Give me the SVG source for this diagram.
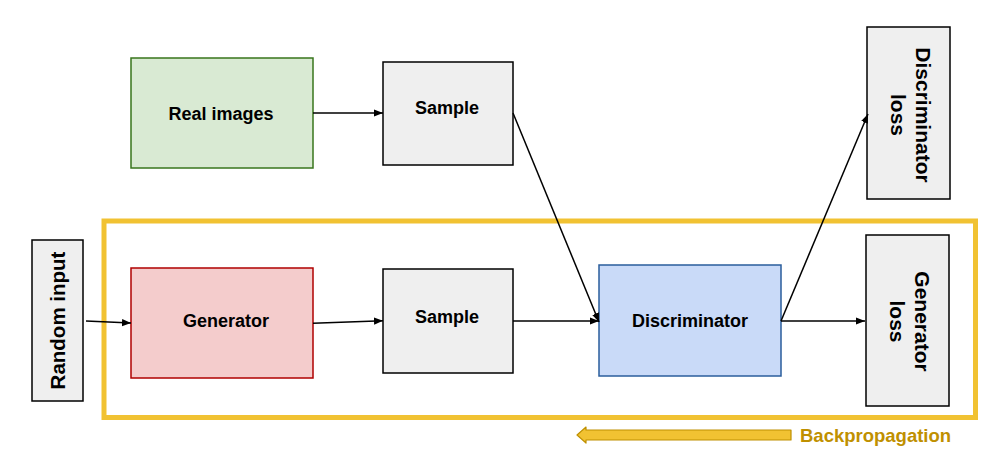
<svg xmlns="http://www.w3.org/2000/svg" width="1000" height="464" viewBox="0 0 1000 464">
<defs>
<style>
.lbl{font-family:"Liberation Sans",Arial,sans-serif;font-weight:bold;font-size:18px;fill:#000;text-anchor:middle}
.vl{font-size:20.5px}
.gray{fill:#efefef;stroke:#000;stroke-width:1.5}
.conn{stroke:#000;stroke-width:1.5;fill:none;marker-end:url(#ah)}
</style>
<marker id="ah" viewBox="0 0 10 10" refX="10" refY="5" markerWidth="9" markerHeight="9" markerUnits="userSpaceOnUse" orient="auto">
<path d="M0,1 L10,5 L0,9 Z" fill="#000"/>
</marker>
</defs>
<rect width="1000" height="464" fill="#fff"/>
<g id="backprop-frame">
<rect x="104" y="221" width="871.5" height="196.5" fill="none" stroke="#f1c232" stroke-width="5"/>
</g>
<g id="real-images">
<rect x="131" y="58" width="182" height="110" fill="#d9ead3" stroke="#38761d" stroke-width="1.5"/>
<text class="lbl" x="221" y="119.5">Real images</text>
</g>
<g id="sample-real">
<rect class="gray" x="383" y="62" width="130" height="103"/>
<text class="lbl" x="447" y="114">Sample</text>
</g>
<g id="random-input">
<rect class="gray" x="32" y="240" width="51" height="161"/>
<text class="lbl vl" transform="translate(57.5,320.5) rotate(-90)" x="0" y="7">Random input</text>
</g>
<g id="generator">
<rect x="131" y="268" width="182" height="110" fill="#f4cccc" stroke="#b00000" stroke-width="1.5"/>
<text class="lbl" x="226" y="327">Generator</text>
</g>
<g id="sample-fake">
<rect class="gray" x="383" y="269" width="130" height="104"/>
<text class="lbl" x="447" y="323">Sample</text>
</g>
<g id="discriminator">
<rect x="599" y="265" width="182" height="111" fill="#c9daf8" stroke="#2a5d9c" stroke-width="1.5"/>
<text class="lbl" x="690" y="327">Discriminator</text>
</g>
<g id="discriminator-loss">
<rect class="gray" x="867" y="27" width="83" height="172"/>
<text class="lbl vl" transform="translate(908.5,113) rotate(90)" style="font-size:21px"><tspan x="2" y="-7">Discriminator</tspan><tspan x="2" y="18">loss</tspan></text>
</g>
<g id="generator-loss">
<rect class="gray" x="866" y="235" width="83" height="171"/>
<text class="lbl vl" transform="translate(907.5,320.5) rotate(90)" style="font-size:21px"><tspan x="1" y="-7">Generator</tspan><tspan x="1" y="18">loss</tspan></text>
</g>
<g id="connectors">
<path class="conn" d="M313,113 L383,113"/>
<path class="conn" d="M513,113 L599,322"/>
<path class="conn" d="M86,321 L131,323"/>
<path class="conn" d="M313,323.3 L383,320.7"/>
<path class="conn" d="M513,321 L599,321"/>
<path class="conn" d="M781,321 L865,321"/>
<path class="conn" d="M781,321 L868,114"/>
</g>
<g id="backpropagation">
<path d="M791,430 L586,430 L586,427 L577,435 L586,443 L586,440 L791,440 Z" fill="#f1c232" stroke="#bf9000" stroke-width="1.2" stroke-linejoin="round"/>
<text x="800" y="442" style="font-family:'Liberation Sans',Arial,sans-serif;font-weight:bold;font-size:18.5px;fill:#bf9000">Backpropagation</text>
</g>
</svg>
